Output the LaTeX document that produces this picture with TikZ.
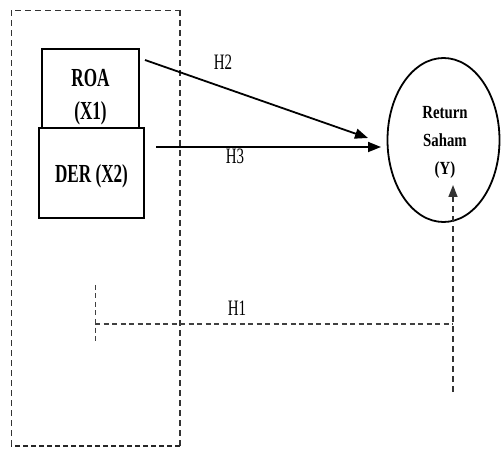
\documentclass[tikz,border=0pt]{standalone}
\usepackage{graphicx}
\usepackage{fontspec}
\setmainfont{Liberation Serif}
\newcommand\bx[1]{\scalebox{0.66}[1]{#1}}
\newcommand\hx[1]{\scalebox{0.68}[1]{#1}}
\newcommand\yx[1]{\scalebox{0.8}[1]{#1}}
\usetikzlibrary{shapes.geometric,arrows.meta}
\begin{document}
\begin{tikzpicture}[x=1pt,y=-1pt,
  varbox/.style={draw,line width=1.8pt,inner sep=0pt,align=center,
    font=\fontsize{26}{33}\selectfont\bfseries},
  hlabel/.style={inner sep=0pt,font=\fontsize{22}{24}\selectfont},
  solidarrow/.style={line width=1.8pt,-{Triangle[length=13pt,width=10pt]}},
  dasharrow/.style={line width=1.6pt,dash pattern=on 6pt off 4pt,draw=black!80,
    -{Triangle[length=12pt,width=9pt]}},
  thindash/.style={line width=1.1pt,dash pattern=on 5pt off 3.5pt,draw=black!75},
  framedash/.style={dash pattern=on 6pt off 4pt,draw=black!80}]
\useasboundingbox (0,0) rectangle (501,449);
% frame
\coordinate (f1) at (11,10);
\coordinate (f2) at (180,10);
\coordinate (f3) at (180,446);
\coordinate (f4) at (11,446);
\draw[framedash,line width=0.9pt] (f4) -- (f1) -- (f2);
\draw[framedash,line width=1.6pt] (f2) -- (f3);
\draw[line width=2pt,dash pattern=on 5pt off 3pt,draw=black!85] (f3) -- (f4);
% boxes
\node[varbox,minimum width=97pt,minimum height=79pt] (roa) at (90.5,88.5)
  {\raisebox{-8pt}[\height][\depth]{\begin{tabular}{@{}c@{}}\bx{ROA}\\\bx{(X1)}\end{tabular}}};
\node[varbox,minimum width=105pt,minimum height=90pt] (der) at (91.5,173)
  {\raisebox{-3pt}[\height][\depth]{\bx{DER (X2)}}};
% ellipse
\node[draw,ellipse,line width=1.8pt,minimum width=112pt,minimum height=164pt,inner sep=0pt] (y) at (443.5,140) {};
\node[inner sep=0pt,align=center,font=\fontsize{18.5}{28}\selectfont\bfseries] (ytext) at (445,142) {\yx{Return}\\\yx{Saham}\\\yx{(Y)}};
% arrows
\coordinate (h2s) at (145,60);
\coordinate (h2e) at (368,138);
\coordinate (h3s) at (156,147);
\coordinate (h3e) at (381,147);
\draw[solidarrow] (h2s) -- (h2e);
\draw[solidarrow] (h3s) -- (h3e);
\node[hlabel] (h2) at (223,62) {\hx{H2}};
\node[hlabel] (h3) at (235,156) {\hx{H3}};
% H1
\coordinate (tickt) at (95,285);
\coordinate (tickb) at (95,343);
\coordinate (h1s) at (95,324);
\coordinate (h1e) at (453,324);
\coordinate (vb) at (453,392);
\coordinate (vt) at (453,185);
\draw[thindash,line width=0.9pt] (tickt) -- (tickb);
\draw[thindash] (h1s) -- (h1e);
\draw[dasharrow] (vb) -- (vt);
\node[hlabel] (h1) at (237,308) {\hx{H1}};
\end{tikzpicture}
\end{document}
